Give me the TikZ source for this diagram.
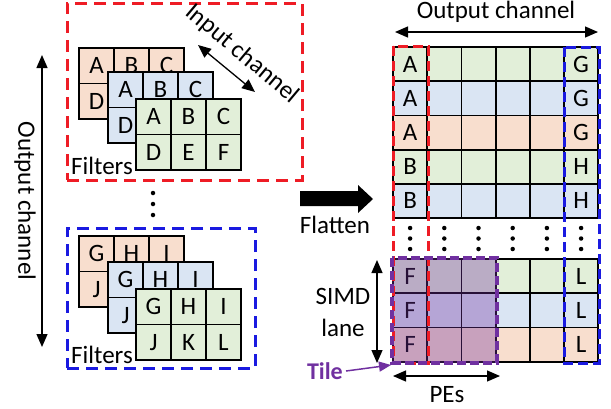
\documentclass[tikz,border=0pt]{standalone}
\usepackage{fontspec}
\setmainfont{Carlito}
\usetikzlibrary{arrows.meta}
\definecolor{corange}{HTML}{F8DECE}
\definecolor{cblue}{HTML}{DAE5F3}
\definecolor{cgreen}{HTML}{E2EFD9}
\definecolor{cred}{HTML}{EE1C25}
\definecolor{cdblue}{HTML}{1A1AE0}
\definecolor{cpurple}{HTML}{7030A0}
\begin{document}
\begin{tikzpicture}[x=1pt,y=-1pt,
  cell/.style={draw=black, line width=1.8pt, minimum width=35pt, minimum height=35.5pt, inner sep=0pt, font=\fontsize{25}{25}\selectfont},
  rcell/.style={draw=black, line width=1.8pt, minimum width=34.2pt, minimum height=34.2pt, inner sep=0pt, font=\fontsize{25}{25}\selectfont},
  lbl/.style={font=\fontsize{25}{29}\selectfont, inner sep=0pt, align=center},
  dbl/.style={line width=1.3pt, {Triangle[length=13pt,width=11pt]}-{Triangle[length=13pt,width=11pt]}},
  reddash/.style={draw=cred, line width=3pt, dash pattern=on 12pt off 7pt},
  bluedash/.style={draw=cdblue, line width=3pt, dash pattern=on 12pt off 7pt},
  rreddash/.style={draw=cred, line width=3pt, dash pattern=on 10pt off 5pt},
  rbluedash/.style={draw=cdblue, line width=3pt, dash pattern=on 10pt off 5pt},
  tiledash/.style={draw=cpurple, line width=4pt, dash pattern=on 9pt off 4pt},
  dot/.style={circle, fill=black, inner sep=0pt, minimum size=4.5pt}
]
\useasboundingbox (0,0) rectangle (611,408);

% ---------- left top filters ----------
\node[reddash, minimum width=235pt, minimum height=177pt, inner sep=0pt] (redbox) at (184.5,91.5) {};
\foreach \r/\c/\t in {1/1/A,1/2/B,1/3/C,2/1/D,2/2/{},2/3/{}}
  \node[cell,fill=corange] (ta\r\c) at ({79+35*(\c-0.5)},{48+35.5*(\r-0.5)}) {\t};
\foreach \r/\c/\t in {1/1/A,1/2/B,1/3/C,2/1/D,2/2/{},2/3/{}}
  \node[cell,fill=cblue] (tb\r\c) at ({108+35*(\c-0.5)},{72+35.5*(\r-0.5)}) {\t};
\foreach \r/\c/\t in {1/1/A,1/2/B,1/3/C,2/1/D,2/2/E,2/3/F}
  \node[cell,fill=cgreen] (tc\r\c) at ({136+35*(\c-0.5)},{99+35.5*(\r-0.5)}) {\t};
\node[lbl, anchor=west] (filt1) at (71,166) {Filters};

% input channel
\coordinate (ic1) at (198,45);
\coordinate (ic2) at (255,92);
\draw[dbl] (ic1) -- (ic2);
\node[lbl, rotate=-40] (inch) at (242,54) {Input channel};

% vertical dots
\node[dot] (ld1) at (153,193) {};
\node[dot] (ld2) at (153,204) {};
\node[dot] (ld3) at (153,215) {};

% ---------- left bottom filters ----------
\node[bluedash, minimum width=188pt, minimum height=140pt, inner sep=0pt] (bluebox) at (161,298) {};
\foreach \r/\c/\t in {1/1/G,1/2/H,1/3/I,2/1/J,2/2/{},2/3/{}}
  \node[cell,fill=corange] (ba\r\c) at ({79+35*(\c-0.5)},{236+35.5*(\r-0.5)}) {\t};
\foreach \r/\c/\t in {1/1/G,1/2/H,1/3/I,2/1/J,2/2/{},2/3/{}}
  \node[cell,fill=cblue] (bb\r\c) at ({108+35*(\c-0.5)},{262+35.5*(\r-0.5)}) {\t};
\foreach \r/\c/\t in {1/1/G,1/2/H,1/3/I,2/1/J,2/2/K,2/3/L}
  \node[cell,fill=cgreen] (bc\r\c) at ({136+35*(\c-0.5)},{289+35.5*(\r-0.5)}) {\t};
\node[lbl, anchor=west] (filt2) at (71,355) {Filters};

% output channel (left)
\coordinate (oc1) at (42,55);
\coordinate (oc2) at (42,347);
\draw[dbl] (oc1) -- (oc2);
\node[lbl, rotate=-90] (ocl) at (25,201) {Output channel};

% ---------- flatten arrow ----------
\fill[black] (300,191) -- (358,191) -- (358,185) -- (373,199) -- (358,213) -- (358,206) -- (300,206) -- cycle;
\node[lbl] (flat) at (335,225) {Flatten};

% ---------- right matrix ----------
\foreach \r/\col/\lt/\rt in {1/cgreen/A/G,2/cblue/A/G,3/corange/A/G,4/cgreen/B/H,5/cblue/B/H}
  \foreach \c/\t in {1/\lt,2/{},3/{},4/{},5/{},6/\rt}
    \node[rcell,fill=\col] (ru\r\c) at ({393+34.2*(\c-0.5)},{47+34.2*(\r-0.5)}) {\t};
\foreach \r/\col in {1/cgreen,2/cblue,3/corange}
  \foreach \c/\t in {1/F,2/{},3/{},4/{},5/{},6/L}
    \node[rcell,fill=\col] (rl\r\c) at ({393+34.2*(\c-0.5)},{259+34.2*(\r-0.5)}) {\t};

% dots in the gap
\foreach \c in {1,...,6}
  \foreach \k/\yy in {1/228,2/238.5,3/249}
    \node[dot] (rd\c\k) at ({393+34.2*(\c-0.5)},\yy) {};

% tile fill
\fill[cpurple, opacity=0.35] (rl11.north west) rectangle (rl33.south east);

% column boxes
\draw[rreddash] (393,46) rectangle (428.5,363);
\draw[rbluedash] (564,47) rectangle (599,363);
% tile border
\draw[tiledash] (rl11.north west) rectangle (rl33.south east);

% output channel (top)
\coordinate (ot1) at (395,32);
\coordinate (ot2) at (598,32);
\draw[dbl] (ot1) -- (ot2);
\node[lbl] (octop) at (496,12) {Output channel};

% SIMD lane
\coordinate (sl1) at (377,260);
\coordinate (sl2) at (377,363);
\draw[dbl] (sl1) -- (sl2);
\node[lbl] (simd) at (343,312) {SIMD\\[3pt]lane};

% PEs
\coordinate (pe1) at (393,376);
\coordinate (pe2) at (500,376);
\draw[dbl] (pe1) -- (pe2);
\node[lbl] (pes) at (447,395) {PEs};

% Tile label
\node[lbl, font=\fontsize{24}{26}\selectfont\bfseries, text=cpurple, anchor=east] (tile) at (343,371) {Tile};
\coordinate (tilept) at (391,365);
\draw[cpurple, line width=1.5pt, -{Triangle[length=12pt,width=10pt]}] (tile.east) ++(3,0) -- (tilept);
\end{tikzpicture}
\end{document}
